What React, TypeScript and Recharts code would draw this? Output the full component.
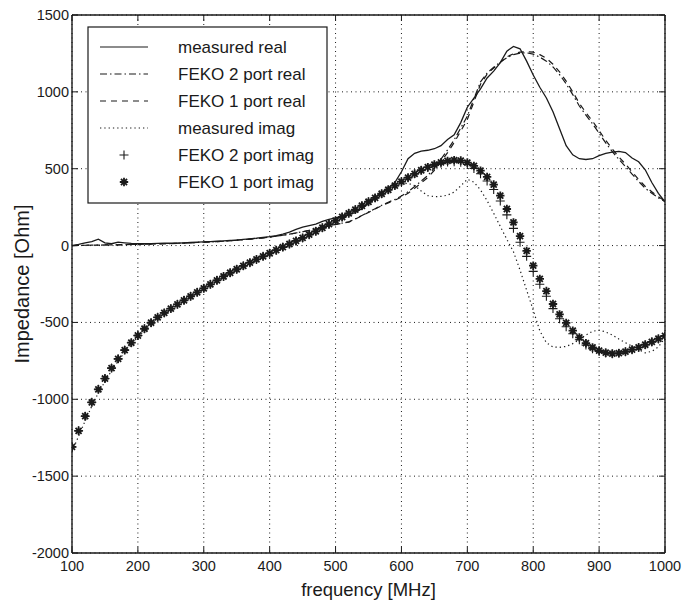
import React from 'react';
import { LineChart, Line, XAxis, YAxis, CartesianGrid, ReferenceLine } from 'recharts';

const freq = [
  100, 110, 120, 130, 140, 150, 160, 170, 180, 190,
  200, 210, 220, 230, 240, 250, 260, 270, 280, 290,
  300, 310, 320, 330, 340, 350, 360, 370, 380, 390,
  400, 410, 420, 430, 440, 450, 460, 470, 480, 490,
  500, 510, 520, 530, 540, 550, 560, 570, 580, 590,
  600, 610, 620, 630, 640, 650, 660, 670, 680, 690,
  700, 710, 720, 730, 740, 750, 760, 770, 780, 790,
  800, 810, 820, 830, 840, 850, 860, 870, 880, 890,
  900, 910, 920, 930, 940, 950, 960, 970, 980, 990,
  1000,
];

const measuredReal = [
  0, 8, 18, 25, 42, 18, 12, 22, 18, 14,
  12, 12, 13, 14, 15, 15, 16, 18, 20, 22,
  24, 26, 28, 30, 33, 36, 40, 44, 48, 53,
  58, 65, 75, 88, 105, 120, 130, 140, 158, 170,
  180, 190, 200, 215, 240, 275, 312, 345, 375, 410,
  480, 565, 600, 615, 620, 630, 650, 690, 720, 800,
  900, 960, 1020, 1090, 1135, 1190, 1265, 1296, 1280, 1200,
  1110, 1030, 960, 870, 760, 650, 590, 565, 560, 565,
  585, 600, 608, 613, 605, 570, 545, 493, 410, 340,
  285,
];

const feko2Real = [
  0, 1, 2, 3, 3, 4, 5, 5, 6, 7,
  8, 9, 10, 11, 12, 13, 15, 16, 18, 20,
  22, 24, 26, 29, 32, 35, 38, 42, 46, 50,
  55, 61, 67, 74, 82, 90, 99, 108, 118, 128,
  138, 146, 154, 174, 196, 218, 240, 262, 282, 300,
  322, 350, 384, 420, 456, 505, 562, 622, 688, 765,
  842, 955, 1065, 1122, 1160, 1194, 1222, 1242, 1252, 1254,
  1245, 1226, 1200, 1162, 1112, 1052, 982, 908, 848, 792,
  731, 668, 611, 561, 514, 465, 417, 373, 340, 310,
  286,
];

const feko1Real = [
  0, 1, 2, 3, 3, 4, 5, 5, 6, 7,
  8, 9, 10, 11, 12, 13, 15, 16, 18, 20,
  22, 24, 26, 29, 32, 35, 38, 42, 46, 50,
  55, 61, 67, 74, 82, 90, 99, 108, 118, 128,
  138, 145, 152, 172, 194, 216, 238, 259, 278, 295,
  315, 340, 372, 408, 442, 490, 545, 605, 670, 745,
  820, 935, 1050, 1115, 1155, 1190, 1228, 1248, 1258, 1262,
  1258, 1242, 1218, 1180, 1130, 1070, 1000, 925, 865, 810,
  748, 685, 628, 577, 530, 480, 430, 385, 350, 318,
  290,
];

const measuredImag = [
  -1340, -1240, -1140, -1045, -958, -885, -815, -752, -694, -644,
  -595, -550, -510, -474, -443, -414, -386, -359, -333, -306,
  -280, -254, -228, -203, -179, -156, -133, -112, -91, -71,
  -51, -31, -11, 9, 29, 50, 72, 94, 117, 141,
  165, 189, 213, 237, 262, 288, 313, 339, 362, 385,
  400, 405, 390, 355, 325, 318, 320, 328, 348, 388,
  432, 412, 362, 292, 210, 125, 40, -40, -160, -290,
  -420, -555, -632, -660, -662, -656, -638, -612, -582, -558,
  -550, -562, -582, -608, -632, -655, -678, -698, -688, -660,
  -600,
];

const feko2Imag = [
  -1310, -1205, -1110, -1020, -935, -865, -797, -737, -680, -632,
  -585, -541, -502, -467, -438, -410, -382, -356, -330, -304,
  -278, -252, -226, -201, -177, -154, -132, -111, -90, -70,
  -50, -30, -10, 10, 30, 50, 71, 93, 116, 139,
  162, 186, 210, 234, 259, 285, 310, 337, 363, 390,
  416, 442, 467, 490, 508, 523, 535, 543, 546, 542,
  527, 502, 467, 420, 365, 290, 200, 112, 22, -70,
  -168, -252, -330, -410, -476, -528, -574, -613, -647, -671,
  -689, -699, -704, -701, -691, -678, -663, -646, -627, -607,
  -590,
];

const feko1Imag = [
  -1310, -1205, -1110, -1020, -935, -865, -797, -737, -680, -632,
  -585, -541, -502, -467, -438, -410, -382, -356, -330, -304,
  -278, -252, -226, -201, -177, -154, -132, -111, -90, -70,
  -50, -30, -10, 10, 30, 50, 71, 93, 116, 139,
  162, 186, 210, 234, 259, 285, 310, 337, 363, 390,
  416, 442, 467, 490, 510, 527, 541, 551, 556, 553,
  540, 518, 487, 447, 397, 325, 238, 151, 61, -35,
  -131, -217, -296, -380, -448, -503, -553, -597, -635, -663,
  -683, -697, -703, -700, -690, -677, -662, -645, -626, -606,
  -588,
];

const xTicks = [100, 200, 300, 400, 500, 600, 700, 800, 900, 1000];
const yTicks = [-2000, -1500, -1000, -500, 0, 500, 1000, 1500];

const legendLabels = [
  'measured real',
  'FEKO 2 port real',
  'FEKO 1 port real',
  'measured imag',
  'FEKO 2 port imag',
  'FEKO 1 port imag',
];

const data = freq.map((f, i) => ({
  f,
  mr: measuredReal[i],
  f2r: feko2Real[i],
  f1r: feko1Real[i],
  mi: measuredImag[i],
  f2i: feko2Imag[i],
  f1i: feko1Imag[i],
}));

const W = 682;
const H = 606;
const PL = 72;
const PR = 665;
const PT = 15;
const PB = 553;
const INK = '#1a1a1a';
const TICK_FONT = '"Liberation Sans Narrow", "Liberation Sans", Arial, sans-serif';
const FONT = '"Liberation Sans", Arial, Helvetica, sans-serif';

const starPath = (cx: number, cy: number, r: number) => {
  const d = r * 0.72;
  return `M${cx - r},${cy}L${cx + r},${cy}M${cx},${cy - r}L${cx},${cy + r}` +
    `M${cx - d},${cy - d}L${cx + d},${cy + d}M${cx - d},${cy + d}L${cx + d},${cy - d}`;
};
const plusPath = (cx: number, cy: number, r: number) =>
  `M${cx - r},${cy}L${cx + r},${cy}M${cx},${cy - r}L${cx},${cy + r}`;

const renderStar = (props: any) => {
  const { cx, cy, index } = props;
  if (cx == null || cy == null) return <g key={`s${index}`} />;
  return <path key={`s${index}`} d={starPath(cx, cy, 4.2)} stroke={INK} strokeWidth={1.8} fill="none" />;
};
const renderPlus = (props: any) => {
  const { cx, cy, index } = props;
  if (cx == null || cy == null) return <g key={`p${index}`} />;
  return <path key={`p${index}`} d={plusPath(cx, cy, 4.5)} stroke={INK} strokeWidth={1.1} fill="none" />;
};

const XTick = (props: any) => {
  const { x, payload } = props;
  return (
    <g>
      <line x1={x} y1={PB} x2={x} y2={PB - 6} stroke={INK} strokeWidth={1} />
      <line x1={x} y1={PT} x2={x} y2={PT + 6} stroke={INK} strokeWidth={1} />
      <text x={x} y={PB + 18} textAnchor="middle" fontSize={14.5} fontFamily={TICK_FONT} fill={INK}>
        {payload.value}
      </text>
    </g>
  );
};

const YTick = (props: any) => {
  const { y, payload } = props;
  return (
    <g>
      <line x1={PL} y1={y} x2={PL + 6} y2={y} stroke={INK} strokeWidth={1} />
      <line x1={PR} y1={y} x2={PR - 6} y2={y} stroke={INK} strokeWidth={1} />
      <text x={PL - 3} y={y + 5} textAnchor="end" fontSize={14.5} fontFamily={TICK_FONT} fill={INK}>
        {payload.value}
      </text>
    </g>
  );
};

const dashes = ['', '7 3 1.5 3', '6 5', '1.3 3'];

export default function App() {
  const LX = 88;
  const LY = 27;
  const LW = 239;
  const LH = 176;
  return (
    <div style={{ position: 'absolute', left: 0, top: 0, width: W, height: H, background: '#fff' }}>
      <LineChart width={W} height={H} data={data} margin={{ top: PT, right: W - PR, bottom: 0, left: 0 }}>
        <CartesianGrid stroke={INK} strokeDasharray="1 3.5" strokeWidth={1} />
        <XAxis
          dataKey="f"
          type="number"
          domain={[100, 1000]}
          ticks={xTicks}
          height={H - PB}
          tickLine={false}
          tickSize={0}
          axisLine={{ stroke: INK, strokeWidth: 1.4 }}
          tick={<XTick />}
          interval={0}
          allowDataOverflow
        />
        <YAxis
          type="number"
          domain={[-2000, 1500]}
          ticks={yTicks}
          width={PL}
          tickLine={false}
          tickSize={0}
          axisLine={{ stroke: INK, strokeWidth: 1.4 }}
          tick={<YTick />}
          interval={0}
          allowDataOverflow
        />
        <ReferenceLine y={1500} stroke={INK} strokeWidth={1.4} />
        <ReferenceLine x={1000} stroke={INK} strokeWidth={1.4} />
        <Line dataKey="mi" stroke={INK} strokeWidth={1.2} strokeDasharray={dashes[3]} dot={false} isAnimationActive={false} />
        <Line dataKey="f2i" stroke="none" dot={renderPlus} isAnimationActive={false} />
        <Line dataKey="f1i" stroke="none" dot={renderStar} isAnimationActive={false} />
        <Line dataKey="f1r" stroke={INK} strokeWidth={1.2} strokeDasharray={dashes[2]} dot={false} isAnimationActive={false} />
        <Line dataKey="f2r" stroke={INK} strokeWidth={1.2} strokeDasharray={dashes[1]} dot={false} isAnimationActive={false} />
        <Line dataKey="mr" stroke={INK} strokeWidth={1.3} dot={false} isAnimationActive={false} />
      </LineChart>
      <svg width={W} height={H} style={{ position: 'absolute', left: 0, top: 0, pointerEvents: 'none' }}>
        <rect x={LX} y={LY} width={LW} height={LH} fill="#fff" stroke={INK} strokeWidth={1.2} />
        {legendLabels.map((label, i) => {
          const y = LY + 20 + i * 27;
          let sample: React.ReactNode = null;
          if (i < 4) {
            sample = (
              <line x1={100} x2={148} y1={y} y2={y} stroke={INK} strokeWidth={1.2}
                strokeDasharray={dashes[i] || undefined} />
            );
          } else if (i === 4) {
            sample = <path d={plusPath(124, y, 4.5)} stroke={INK} strokeWidth={1.1} fill="none" />;
          } else {
            sample = <path d={starPath(124, y, 4.2)} stroke={INK} strokeWidth={1.8} fill="none" />;
          }
          return (
            <g key={label}>
              {sample}
              <text x={178} y={y + 6} fontSize={17} fontFamily={FONT} fill={INK}>{label}</text>
            </g>
          );
        })}
        <text x={(PL + PR) / 2} y={596} textAnchor="middle" fontSize={18.5} fontFamily={FONT} fill={INK}>
          frequency [MHz]
        </text>
        <text x={0} y={0} transform={`translate(29, ${(PT + PB) / 2}) rotate(-90)`} textAnchor="middle"
          fontSize={20} fontFamily={FONT} fill={INK}>
          Impedance [Ohm]
        </text>
      </svg>
    </div>
  );
}
